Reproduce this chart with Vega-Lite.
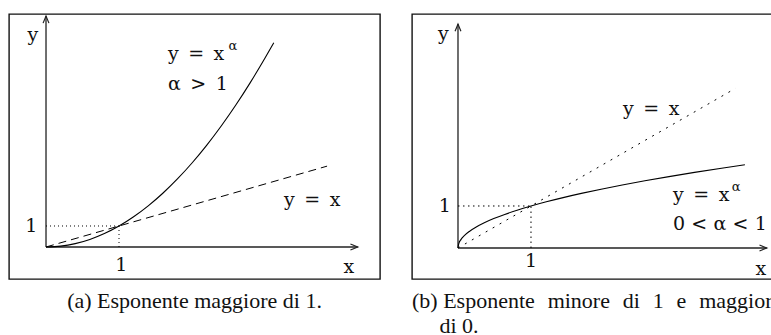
{
  "$schema": "https://vega.github.io/schema/vega-lite/v6.json",
  "background": "white",
  "padding": {"left": 8, "top": 12, "right": 0, "bottom": 0},
  "spacing": 30,
  "config": {
    "view": {"stroke": "#111", "strokeWidth": 1.4},
    "title": {"font": "Liberation Serif", "fontSize": 22, "fontWeight": "normal", "color": "#111", "orient": "bottom", "offset": 12, "lineHeight": 25}
  },
  "datasets": {
    "a_axes": [{"x": 0, "y": 0, "x2": 4.27, "y2": 0}, {"x": 0, "y": 0, "x2": 0, "y2": 11.0}],
    "a_head_x": [{"x": 4.17, "y": 0.14}, {"x": 4.27, "y": 0}, {"x": 4.17, "y": -0.14}],
    "a_head_y": [{"x": -0.04, "y": 10.66}, {"x": 0, "y": 11.0}, {"x": 0.04, "y": 10.66}],
    "a_guides": [{"x": 0, "y": 1, "x2": 1, "y2": 1}, {"x": 1, "y": 0, "x2": 1, "y2": 1}],
    "a_identity": [{"x": 0, "y": 0}, {"x": 3.85, "y": 3.85}],
    "a_power": [
      {"x": 0, "y": 0}, {"x": 0.2, "y": 0.04}, {"x": 0.4, "y": 0.16}, {"x": 0.6, "y": 0.36},
      {"x": 0.8, "y": 0.64}, {"x": 1.0, "y": 1.0}, {"x": 1.2, "y": 1.44}, {"x": 1.4, "y": 1.96},
      {"x": 1.6, "y": 2.56}, {"x": 1.8, "y": 3.24}, {"x": 2.0, "y": 4.0}, {"x": 2.2, "y": 4.84},
      {"x": 2.4, "y": 5.76}, {"x": 2.6, "y": 6.76}, {"x": 2.8, "y": 7.84}, {"x": 3.0, "y": 9.0},
      {"x": 3.12, "y": 9.73}
    ],
    "a_centered": [
      {"x": -0.18, "y": 10.1, "label": "y"},
      {"x": 4.15, "y": -0.95, "label": "x"},
      {"x": 1.03, "y": -0.86, "label": "1"},
      {"x": -0.2, "y": 1.0, "label": "1"}
    ],
    "a_notes": [
      {"x": 1.67, "y": 9.19, "label": "y\u2002=\u2002x"},
      {"x": 1.67, "y": 7.76, "label": "\u03b1\u2002>\u20021"},
      {"x": 3.26, "y": 2.24, "label": "y\u2002=\u2002x"}
    ],
    "a_sup": [{"x": 2.5, "y": 9.57, "label": "\u03b1"}],
    "b_axes": [{"x": 0, "y": 0, "x2": 4.23, "y2": 0}, {"x": 0, "y": 0, "x2": 0, "y2": 5.33}],
    "b_head_x": [{"x": 4.13, "y": 0.07}, {"x": 4.23, "y": 0}, {"x": 4.13, "y": -0.07}],
    "b_head_y": [{"x": -0.04, "y": 5.16}, {"x": 0, "y": 5.33}, {"x": 0.04, "y": 5.16}],
    "b_guides": [{"x": 0, "y": 1, "x2": 1, "y2": 1}, {"x": 1, "y": 0, "x2": 1, "y2": 1}],
    "b_identity": [{"x": 0, "y": 0}, {"x": 3.8, "y": 3.8}],
    "b_power": [
      {"x": 0, "y": 0}, {"x": 0.01, "y": 0.1}, {"x": 0.04, "y": 0.2}, {"x": 0.09, "y": 0.3},
      {"x": 0.16, "y": 0.4}, {"x": 0.25, "y": 0.5}, {"x": 0.36, "y": 0.6}, {"x": 0.49, "y": 0.7},
      {"x": 0.64, "y": 0.8}, {"x": 0.81, "y": 0.9}, {"x": 1.0, "y": 1.0}, {"x": 1.21, "y": 1.1},
      {"x": 1.44, "y": 1.2}, {"x": 1.69, "y": 1.3}, {"x": 1.96, "y": 1.4}, {"x": 2.25, "y": 1.5},
      {"x": 2.56, "y": 1.6}, {"x": 2.89, "y": 1.7}, {"x": 3.24, "y": 1.8}, {"x": 3.61, "y": 1.9},
      {"x": 3.93, "y": 1.982}
    ],
    "b_centered": [
      {"x": -0.2, "y": 5.1, "label": "y"},
      {"x": 4.15, "y": -0.5, "label": "x"},
      {"x": 1.0, "y": -0.31, "label": "1"},
      {"x": -0.18, "y": 1.0, "label": "1"}
    ],
    "b_notes": [
      {"x": 2.26, "y": 3.31, "label": "y\u2002=\u2002x"},
      {"x": 2.945, "y": 1.26, "label": "y\u2002=\u2002x"},
      {"x": 2.945, "y": 0.57, "label": "0\u2004<\u2004\u03b1\u2004<\u20041"}
    ],
    "b_sup": [{"x": 3.75, "y": 1.45, "label": "\u03b1"}]
  },
  "hconcat": [
    {
      "width": 371,
      "height": 265,
      "title": {"text": "(a) Esponente maggiore di 1.", "anchor": "middle"},
      "encoding": {
        "x": {"field": "x", "type": "quantitative", "axis": null, "scale": {"domain": [-0.507, 4.575], "nice": false, "zero": false}},
        "y": {"field": "y", "type": "quantitative", "axis": null, "scale": {"domain": [-1.524, 11.095], "nice": false, "zero": false}}
      },
      "layer": [
        {"data": {"name": "a_axes"}, "mark": {"type": "rule", "stroke": "#222", "strokeWidth": 1.3},
         "encoding": {"x2": {"field": "x2"}, "y2": {"field": "y2"}}},
        {"data": {"name": "a_head_x"}, "mark": {"type": "line", "stroke": "#222", "strokeWidth": 1.2},
         "encoding": {"order": {"field": "y", "type": "quantitative"}}},
        {"data": {"name": "a_head_y"}, "mark": {"type": "line", "stroke": "#222", "strokeWidth": 1.2},
         "encoding": {"order": {"field": "x", "type": "quantitative"}}},
        {"data": {"name": "a_guides"}, "mark": {"type": "rule", "stroke": "#000", "strokeWidth": 1, "strokeDash": [1, 3]},
         "encoding": {"x2": {"field": "x2"}, "y2": {"field": "y2"}}},
        {"data": {"name": "a_identity"}, "mark": {"type": "line", "stroke": "#000", "strokeWidth": 1, "strokeDash": [8, 5]}},
        {"data": {"name": "a_power"}, "mark": {"type": "line", "stroke": "#000", "strokeWidth": 1.1, "interpolate": "monotone"}},
        {"data": {"name": "a_centered"}, "mark": {"type": "text", "font": "DejaVu Serif", "fontSize": 19, "align": "center", "baseline": "middle", "color": "#111"},
         "encoding": {"text": {"field": "label"}}},
        {"data": {"name": "a_notes"}, "mark": {"type": "text", "font": "DejaVu Serif", "fontSize": 19, "align": "left", "baseline": "middle", "color": "#111"},
         "encoding": {"text": {"field": "label"}}},
        {"data": {"name": "a_sup"}, "mark": {"type": "text", "font": "DejaVu Serif", "fontSize": 13, "align": "left", "baseline": "middle", "color": "#111"},
         "encoding": {"text": {"field": "label"}}}
      ]
    },
    {
      "width": 371,
      "height": 265,
      "title": {"text": ["(b) Esponente \u2004minore \u2004di \u20041 \u2004e \u2004maggiore", "\u200b\u00a0\u00a0\u00a0\u00a0\u00a0di 0."], "anchor": "start", "dx": 0},
      "encoding": {
        "x": {"field": "x", "type": "quantitative", "axis": null, "scale": {"domain": [-0.63, 4.452], "nice": false, "zero": false}},
        "y": {"field": "y", "type": "quantitative", "axis": null, "scale": {"domain": [-0.738, 5.571], "nice": false, "zero": false}}
      },
      "layer": [
        {"data": {"name": "b_axes"}, "mark": {"type": "rule", "stroke": "#222", "strokeWidth": 1.3},
         "encoding": {"x2": {"field": "x2"}, "y2": {"field": "y2"}}},
        {"data": {"name": "b_head_x"}, "mark": {"type": "line", "stroke": "#222", "strokeWidth": 1.2},
         "encoding": {"order": {"field": "y", "type": "quantitative"}}},
        {"data": {"name": "b_head_y"}, "mark": {"type": "line", "stroke": "#222", "strokeWidth": 1.2},
         "encoding": {"order": {"field": "x", "type": "quantitative"}}},
        {"data": {"name": "b_guides"}, "mark": {"type": "rule", "stroke": "#000", "strokeWidth": 1, "strokeDash": [1.5, 3.5]},
         "encoding": {"x2": {"field": "x2"}, "y2": {"field": "y2"}}},
        {"data": {"name": "b_identity"}, "mark": {"type": "line", "stroke": "#000", "strokeWidth": 1, "strokeDash": [2, 6]}},
        {"data": {"name": "b_power"}, "mark": {"type": "line", "stroke": "#000", "strokeWidth": 1.1, "interpolate": "monotone"}},
        {"data": {"name": "b_centered"}, "mark": {"type": "text", "font": "DejaVu Serif", "fontSize": 19, "align": "center", "baseline": "middle", "color": "#111"},
         "encoding": {"text": {"field": "label"}}},
        {"data": {"name": "b_notes"}, "mark": {"type": "text", "font": "DejaVu Serif", "fontSize": 19, "align": "left", "baseline": "middle", "color": "#111"},
         "encoding": {"text": {"field": "label"}}},
        {"data": {"name": "b_sup"}, "mark": {"type": "text", "font": "DejaVu Serif", "fontSize": 13, "align": "left", "baseline": "middle", "color": "#111"},
         "encoding": {"text": {"field": "label"}}}
      ]
    }
  ]
}
